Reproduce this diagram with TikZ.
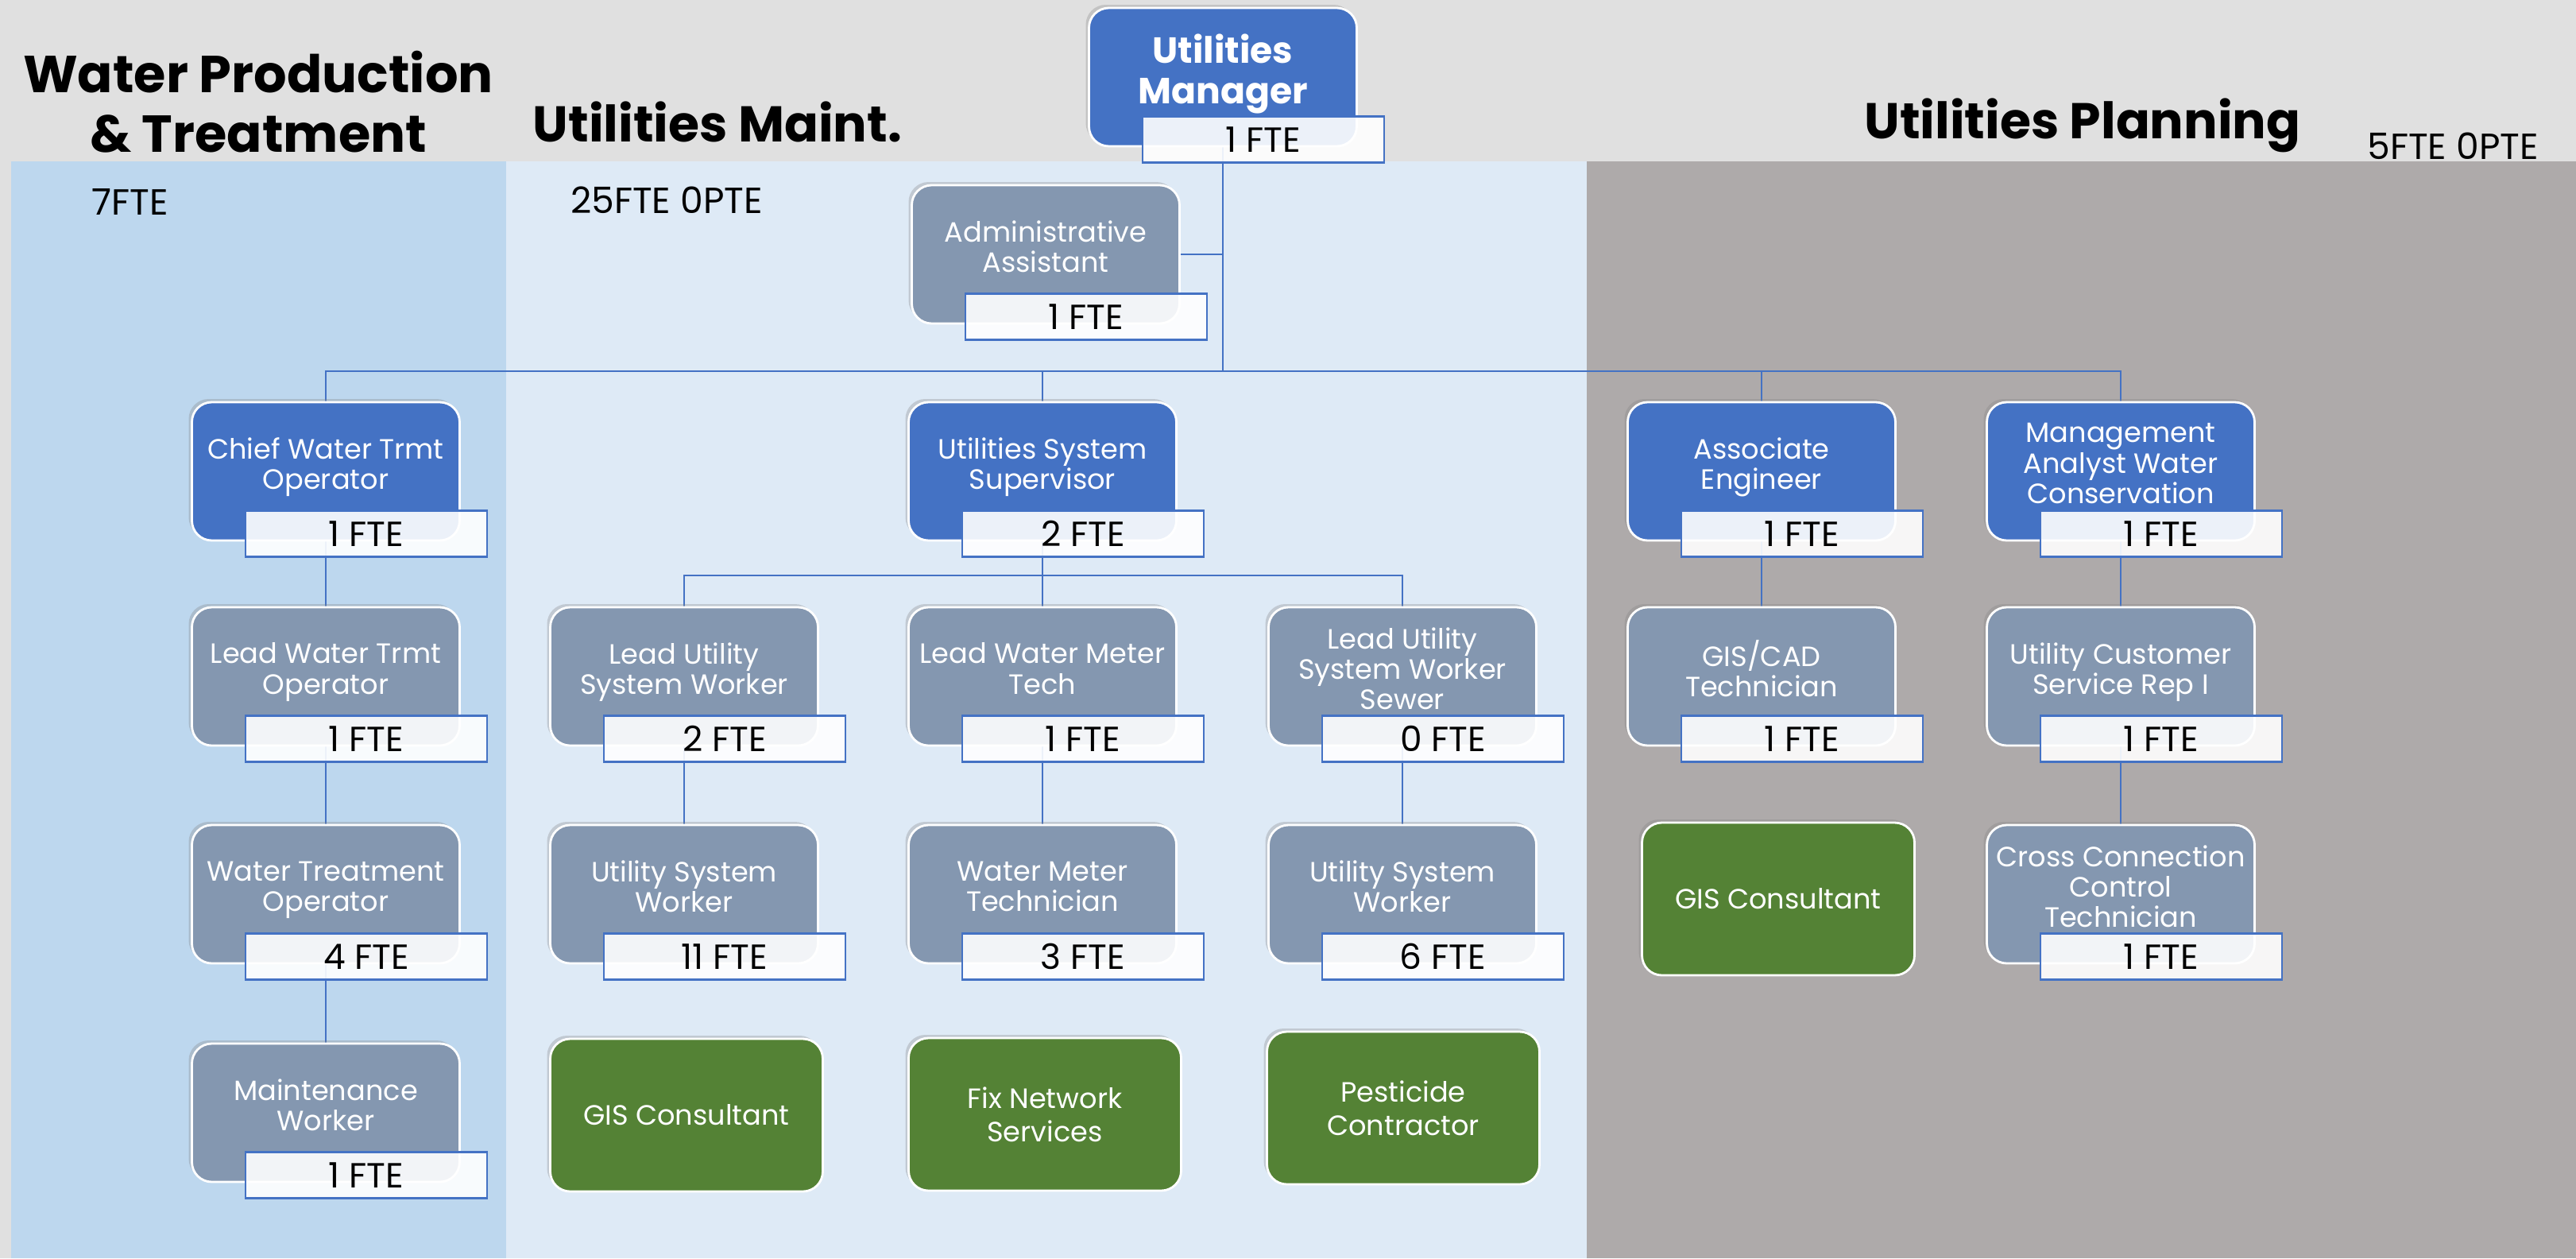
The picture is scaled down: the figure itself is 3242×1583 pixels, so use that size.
\documentclass[tikz,border=0pt]{standalone}
\usepackage{fontspec}
\setmainfont{Poppins}
\usetikzlibrary{positioning,shadows}
\definecolor{hdrgray}{HTML}{E0E0E0}
\definecolor{wpblue}{HTML}{BDD7EE}
\definecolor{umblue}{HTML}{DEEAF6}
\definecolor{upgray}{HTML}{AEAAAA}
\definecolor{boxblue}{HTML}{4472C4}
\definecolor{boxslate}{HTML}{8497B0}
\definecolor{boxgreen}{HTML}{548235}
\pgfdeclarelayer{back}
\pgfsetlayers{back,main}
% FTE tag under a position box
\newcommand{\fte}[2]{\node[fte] (#1f) at ([xshift=5.1mm,yshift=1mm]#1.south) {#2 FTE};}

\begin{document}
\begin{tikzpicture}[x=0.1mm,y=-0.1mm,
  post/.style={rounded corners=2.5mm,draw=white,line width=0.8pt,text=white,align=center,inner sep=1mm,
    font=\fontsize{10}{10.9}\selectfont,drop shadow={shadow xshift=-0.4mm,shadow yshift=0.4mm,opacity=0.3}},
  head/.style={post,fill=boxblue,minimum width=33.7mm,minimum height=17.4mm,text depth=2mm},
  staff/.style={head,fill=boxslate},
  vendor/.style={post,fill=boxgreen,minimum width=34.3mm,minimum height=19.2mm,font=\fontsize{10}{12}\selectfont},
  fte/.style={draw=boxblue,line width=0.8pt,fill=white,fill opacity=0.9,text opacity=1,
    minimum width=30.4mm,minimum height=5.8mm,inner sep=0pt,font=\fontsize{12.5}{13}\selectfont},
  conn/.style={draw=boxblue,line width=0.8pt},
  title/.style={font=\fontsize{18}{21}\selectfont\bfseries,align=center},
  count/.style={font=\fontsize{13}{13}\selectfont}]
\useasboundingbox (0,0) rectangle (3242,1583);
\begin{pgfonlayer}{back}
\fill[hdrgray] (0,0) rectangle (3242,1583);
\fill[wpblue] (14,203) rectangle (637,1583);
\fill[umblue] (637,203) rectangle (1997,1583);
\fill[upgray] (1997,203) rectangle (3242,1583);
\end{pgfonlayer}

% section headings
\node[title,font=\fontsize{18.6}{21.5}\selectfont\bfseries] (wpt) at (325,128) {Water Production\\\& Treatment};
\node[title] (umt) at (903,153) {Utilities Maint.};
\node[title] (upl) at (2621,158) {Utilities Planning};
\node[count] (wptc) at (164,254) {7FTE};
\node[count] (umtc) at (839,252) {25FTE 0PTE};
\node[count] (uplc) at (3087,184) {5FTE 0PTE};

% top
\node[head,font=\fontsize{13}{14.5}\selectfont\bfseries] (mgr) at (1539,97) {Utilities\\Manager};
\fte{mgr}{1}
\node[staff] (adm) at (1316,320) {Administrative\\Assistant};
\fte{adm}{1}

% first row
\node[head] (chief) at (410,593) {Chief Water Trmt\\Operator};
\fte{chief}{1}
\node[head] (sup) at (1312,593) {Utilities System\\Supervisor};
\fte{sup}{2}
\node[head] (assoc) at (2217,593) {Associate\\Engineer};
\fte{assoc}{1}
\node[head] (mgmt) at (2669,593) {Management\\Analyst Water\\Conservation};
\fte{mgmt}{1}

% second row
\node[staff] (lwto) at (410,851) {Lead Water Trmt\\Operator};
\fte{lwto}{1}
\node[staff] (lusw) at (861,851) {Lead Utility\\System Worker};
\fte{lusw}{2}
\node[staff] (lwmt) at (1312,851) {Lead Water Meter\\Tech};
\fte{lwmt}{1}
\node[staff] (luss) at (1765,851) {Lead Utility\\System Worker\\Sewer};
\fte{luss}{0}
\node[staff] (giscad) at (2217,851) {GIS/CAD\\Technician};
\fte{giscad}{1}
\node[staff] (ucsr) at (2669,851) {Utility Customer\\Service Rep I};
\fte{ucsr}{1}

% third row
\node[staff] (wto) at (410,1125) {Water Treatment\\Operator};
\fte{wto}{4}
\node[staff] (usw) at (861,1125) {Utility System\\Worker};
\fte{usw}{11}
\node[staff] (wmt) at (1312,1125) {Water Meter\\Technician};
\fte{wmt}{3}
\node[staff] (usws) at (1765,1125) {Utility System\\Worker};
\fte{usws}{6}
\node[vendor] (gisp) at (2238,1131) {GIS Consultant};
\node[staff] (ccct) at (2669,1125) {Cross Connection\\Control\\Technician};
\fte{ccct}{1}

% fourth row
\node[staff] (mw) at (410,1400) {Maintenance\\Worker};
\fte{mw}{1}
\node[vendor] (gism) at (864,1403) {GIS Consultant};
\node[vendor] (fix) at (1315,1402) {Fix Network\\Services};
\node[vendor] (pest) at (1766,1394) {Pesticide\\Contractor};

% connectors
\coordinate (bus) at (0,467);
\coordinate (bus2) at (0,724);
\begin{pgfonlayer}{back}
\draw[conn] (mgr.south) -- (mgr.south |- bus);
\draw[conn] (adm.east) -- (adm.east -| mgr.south);
\draw[conn] (chief.north) |- (mgmt.north |- bus) -- (mgmt.north);
\draw[conn] (sup.north) -- (sup.north |- bus);
\draw[conn] (assoc.north) -- (assoc.north |- bus);
\draw[conn] (sup.south) -- (sup.south |- bus2);
\draw[conn] (lusw.north) |- (luss.north |- bus2) -- (luss.north);
\draw[conn] (lwmt.north) -- (lwmt.north |- bus2);
\draw[conn] (chief) -- (lwto);
\draw[conn] (lwto) -- (wto);
\draw[conn] (wto) -- (mw);
\draw[conn] (lusw) -- (usw);
\draw[conn] (lwmt) -- (wmt);
\draw[conn] (luss) -- (usws);
\draw[conn] (assoc) -- (giscad);
\draw[conn] (mgmt) -- (ucsr);
\draw[conn] (ucsr) -- (ccct);
\end{pgfonlayer}
\end{tikzpicture}
\end{document}
